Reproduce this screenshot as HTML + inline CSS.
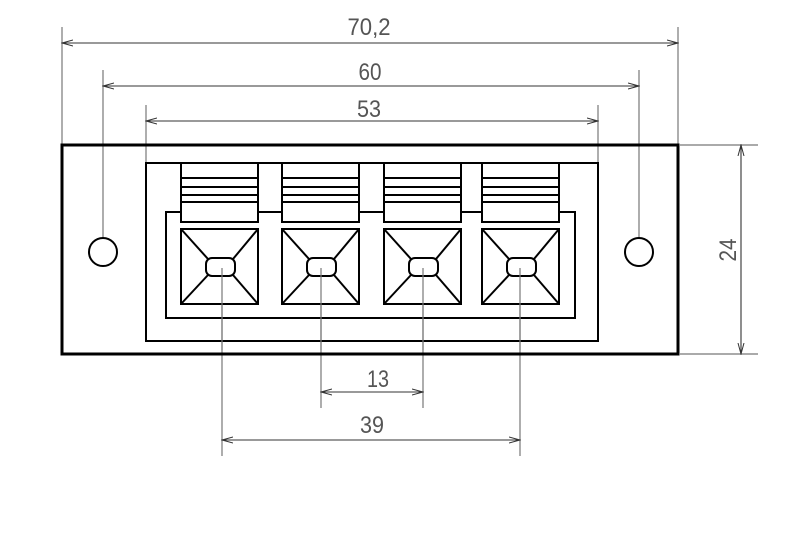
<!DOCTYPE html>
<html><head><style>html,body{margin:0;padding:0;background:#fff}svg{display:block}</style></head>
<body>
<svg width="800" height="537" viewBox="0 0 800 537" xmlns="http://www.w3.org/2000/svg">
<defs>
<marker id="a" markerWidth="12" markerHeight="8" refX="11" refY="4" orient="auto-start-reverse" markerUnits="userSpaceOnUse">
<path d="M0,1 L11,4 L0,7" fill="none" stroke="#333" stroke-width="1"/>
</marker>
</defs>
<g stroke="#777" stroke-width="1.2" fill="none">
<line x1="62" y1="27" x2="62" y2="145"/>
<line x1="678" y1="27" x2="678" y2="145"/>
<line x1="103" y1="70" x2="103" y2="238"/>
<line x1="639" y1="70" x2="639" y2="238"/>
<line x1="146" y1="105" x2="146" y2="163"/>
<line x1="598" y1="105" x2="598" y2="163"/>
<line x1="680" y1="145" x2="758" y2="145"/>
<line x1="680" y1="354" x2="758" y2="354"/>
<line x1="222" y1="268" x2="222" y2="456"/>
<line x1="520" y1="268" x2="520" y2="456"/>
<line x1="321" y1="268" x2="321" y2="408"/>
<line x1="423" y1="268" x2="423" y2="408"/>
</g>
<g stroke="#333" stroke-width="1.1" fill="none">
<line x1="62" y1="43" x2="678" y2="43" marker-start="url(#a)" marker-end="url(#a)"/>
<line x1="103" y1="86" x2="639" y2="86" marker-start="url(#a)" marker-end="url(#a)"/>
<line x1="146" y1="121" x2="598" y2="121" marker-start="url(#a)" marker-end="url(#a)"/>
<line x1="741" y1="145" x2="741" y2="354" marker-start="url(#a)" marker-end="url(#a)"/>
<line x1="321" y1="392" x2="423" y2="392" marker-start="url(#a)" marker-end="url(#a)"/>
<line x1="222" y1="440" x2="520" y2="440" marker-start="url(#a)" marker-end="url(#a)"/>
</g>
<g font-family="Liberation Sans, sans-serif" font-size="24" fill="#555" text-anchor="middle">
<text x="369" y="35" textLength="43" lengthAdjust="spacingAndGlyphs">70,2</text>
<text x="370" y="80" textLength="23" lengthAdjust="spacingAndGlyphs">60</text>
<text x="369" y="117" textLength="24" lengthAdjust="spacingAndGlyphs">53</text>
<text x="378" y="387" textLength="22" lengthAdjust="spacingAndGlyphs">13</text>
<text x="372" y="433" textLength="24" lengthAdjust="spacingAndGlyphs">39</text>
<text x="0" y="0" transform="translate(736,250) rotate(-90)" textLength="23" lengthAdjust="spacingAndGlyphs">24</text>
</g>
<g stroke="#000" fill="none">
<rect x="62" y="145" width="616" height="209" stroke-width="3"/>
<rect x="146" y="163" width="452" height="178" stroke-width="2"/>
<rect x="166" y="212" width="409" height="106" stroke-width="2"/>
<circle cx="103" cy="252" r="14" stroke-width="2" fill="#fff"/>
<circle cx="639" cy="252" r="14" stroke-width="2" fill="#fff"/>
</g>
<g stroke="#000" stroke-width="2" fill="none">
<g id="t">
<rect x="181" y="163" width="77" height="59" fill="#fff"/>
<line x1="181" y1="178" x2="258" y2="178"/>
<line x1="181" y1="187" x2="258" y2="187"/>
<line x1="181" y1="195" x2="258" y2="195"/>
<line x1="181" y1="202" x2="258" y2="202"/>
<rect x="181" y="229" width="77" height="75" fill="#fff"/>
<line x1="181" y1="229" x2="208" y2="259"/>
<line x1="258" y1="229" x2="233" y2="259"/>
<line x1="181" y1="304" x2="208" y2="275"/>
<line x1="258" y1="304" x2="233" y2="275"/>
<rect x="206" y="258" width="29" height="18" rx="6"/>
</g>
<use href="#t" x="101"/>
<use href="#t" x="203"/>
<use href="#t" x="301"/>
</g>
<g stroke="#777" stroke-width="1.2">
<line x1="222" y1="268" x2="222" y2="350"/>
<line x1="321" y1="268" x2="321" y2="350"/>
<line x1="423" y1="268" x2="423" y2="350"/>
<line x1="520" y1="268" x2="520" y2="350"/>
</g>
</svg>
</body></html>
